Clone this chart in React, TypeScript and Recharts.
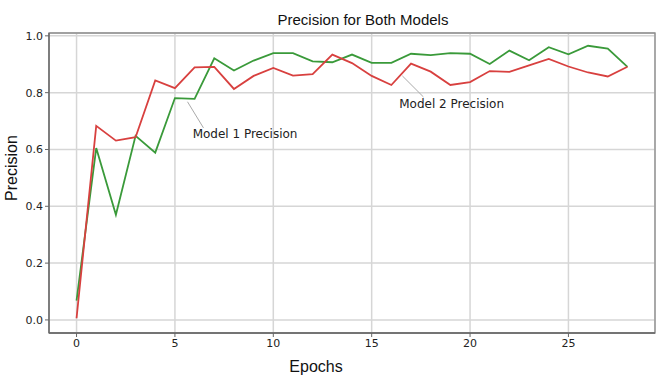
import React from 'react';
import {
    LineChart,
    Line,
    XAxis,
    YAxis,
    CartesianGrid,
    ReferenceArea,
    ReferenceLine,
    ReferenceDot
} from 'recharts';

// epochs 0..28
const epochs = [
    0, 1, 2, 3, 4, 5, 6, 7, 8, 9, 10, 11, 12, 13, 14,
    15, 16, 17, 18, 19, 20, 21, 22, 23, 24, 25, 26, 27, 28
];

const model1Precision = [
    0.068, 0.605, 0.370, 0.648, 0.589, 0.781, 0.778, 0.921, 0.878, 0.913,
    0.939, 0.939, 0.910, 0.907, 0.934, 0.905, 0.905, 0.937, 0.932, 0.939,
    0.937, 0.901, 0.948, 0.914, 0.960, 0.935, 0.965, 0.955, 0.891
];

const model2Precision = [
    0.006, 0.683, 0.631, 0.643, 0.843, 0.816, 0.889, 0.891, 0.813, 0.859,
    0.887, 0.860, 0.865, 0.934, 0.904, 0.859, 0.827, 0.902, 0.874, 0.827,
    0.837, 0.876, 0.873, 0.896, 0.919, 0.892, 0.871, 0.857, 0.891
];

const xTicks = [0, 5, 10, 15, 20, 25];
const yTicks = [0, 0.2, 0.4, 0.6, 0.8, 1.0];

const xDomain: [number, number] = [-1.4, 29.4];
const yDomain: [number, number] = [-0.046, 1.01];

// annotation text anchors and connector segments (data coords)
const annotations = [
    { text: 'Model 1 Precision', x: 5.9, y: 0.655, from: { x: 5.64, y: 0.768 }, to: { x: 6.45, y: 0.676 } },
    { text: 'Model 2 Precision', x: 16.4, y: 0.761, from: { x: 16.56, y: 0.859 }, to: { x: 17.63, y: 0.785 } }
];

const data = epochs.map((e, i) => ({
    epoch: e,
    m1: model1Precision[i],
    m2: model2Precision[i]
}));

const tickFont = { fill: '#222', fontSize: 11, fontFamily: 'DejaVu Sans' };

const App: React.FC = () => {
    return (
        <div style={{ position: 'fixed', left: 0, top: 0, width: 663, height: 378, background: '#fff' }}>
            <LineChart width={663} height={378} data={data} margin={{ top: 33, right: 8, left: 0, bottom: 0 }}>
                <text x={363} y={25} textAnchor="middle" fontSize={15} fontFamily="Liberation Sans" fill="#111">
                    Precision for Both Models
                </text>
                <text x={316} y={372} textAnchor="middle" fontSize={16} fontFamily="Liberation Sans" fill="#111">
                    Epochs
                </text>
                <text
                    x={17}
                    y={168}
                    transform="rotate(-90 17 168)"
                    textAnchor="middle"
                    fontSize={16}
                    fontFamily="Liberation Sans"
                    fill="#111"
                >
                    Precision
                </text>
                <CartesianGrid stroke="#d6d6d6" strokeWidth={1.5} />
                <XAxis
                    dataKey="epoch"
                    type="number"
                    domain={xDomain}
                    ticks={xTicks}
                    allowDataOverflow
                    height={45}
                    axisLine={{ stroke: '#666', strokeWidth: 1.3 }}
                    tickLine={{ stroke: '#666' }}
                    tickSize={4}
                    tick={tickFont}
                />
                <YAxis
                    type="number"
                    domain={yDomain}
                    ticks={yTicks}
                    allowDataOverflow
                    width={49}
                    axisLine={{ stroke: '#666', strokeWidth: 1.3 }}
                    tickLine={{ stroke: '#666' }}
                    tickSize={4}
                    tick={tickFont}
                    tickFormatter={(v: number) => v.toFixed(1)}
                />
                <ReferenceArea
                    x1={xDomain[0]}
                    x2={xDomain[1]}
                    y1={yDomain[0]}
                    y2={yDomain[1]}
                    fill="none"
                    fillOpacity={0}
                    stroke="#8c8c8c"
                    strokeWidth={1.3}
                    ifOverflow="visible"
                />
                {annotations.map((a) => (
                    <ReferenceLine
                        key={a.text + '-line'}
                        segment={[a.from, a.to]}
                        stroke="#aaa"
                        strokeWidth={1}
                        ifOverflow="visible"
                    />
                ))}
                {annotations.map((a) => (
                    <ReferenceDot
                        key={a.text}
                        x={a.x}
                        y={a.y}
                        r={0}
                        fill="none"
                        stroke="none"
                        ifOverflow="visible"
                        label={(props: any) => (
                            <text
                                x={props.viewBox.x}
                                y={props.viewBox.y}
                                dy={4}
                                textAnchor="start"
                                fontSize={12}
                                fontFamily="DejaVu Sans"
                                fill="#222"
                            >
                                {a.text}
                            </text>
                        )}
                    />
                ))}
                <Line
                    type="linear"
                    dataKey="m1"
                    stroke="#3a9a3a"
                    strokeWidth={1.8}
                    dot={false}
                    isAnimationActive={false}
                />
                <Line
                    type="linear"
                    dataKey="m2"
                    stroke="#d8403f"
                    strokeWidth={1.8}
                    dot={false}
                    isAnimationActive={false}
                />
            </LineChart>
        </div>
    );
};

export default App;
